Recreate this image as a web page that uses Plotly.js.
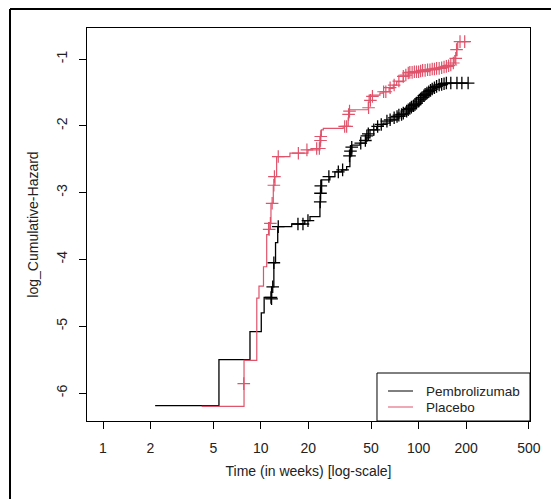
<!DOCTYPE html>
<html>
<head>
<meta charset="utf-8">
<script src="https://cdn.plot.ly/plotly-3.0.1.min.js"></script>
<style>
html,body{margin:0;padding:0;background:#fff;}
#chart{width:551px;height:499px;}
</style>
</head>
<body>
<div id="chart"></div>
<script>
// ---- data ----
const seriesNames = ["Pembrolizumab", "Placebo"];

const pembroTime = [2.14, 5.43, 8.54, 10.07, 10.5, 11.7, 12.1, 12.4, 12.8, 15.7, 19.0, 20.5,
  23.7, 23.9, 24.3, 27.4, 29.5, 32.6, 35.0, 36.7, 37.7, 42.5, 46.4, 49.2, 54.3, 59.5, 65.9,
  74.1, 82.0, 87, 92.2, 97, 102, 107, 112.5, 118, 123.4, 130, 136.6, 150.7, 205];
const pembroLogH = [-6.19, -5.50, -5.08, -4.80, -4.57, -4.41, -4.05, -3.75, -3.51, -3.47, -3.42, -3.36,
  -3.14, -3.00, -2.81, -2.76, -2.69, -2.66, -2.61, -2.45, -2.29, -2.26, -2.18, -2.06, -2.01, -1.96, -1.91,
  -1.86, -1.81, -1.76, -1.71, -1.66, -1.61, -1.56, -1.51, -1.47, -1.44, -1.41, -1.39, -1.36, -1.36];

const pembroCensTime = [11.6, 11.7, 11.9, 12.1, 12.9, 17.2, 18.5, 19.9, 23.8, 23.9, 24.0, 27, 31, 33,
  36.5, 37, 37.7, 43, 46, 47, 48, 52, 55, 58, 63, 66, 70, 73, 75, 78, 80, 84, 86, 88, 90, 93, 95, 97,
  100, 103, 105, 108, 110, 113, 116, 119, 122, 126, 130, 135, 140, 145, 150, 160, 175, 188, 206];
const pembroCensLogH = [-4.57, -4.59, -4.41, -4.05, -3.51, -3.47, -3.47, -3.42, -3.14, -3.01, -2.90, -2.76, -2.69, -2.66,
  -2.45, -2.38, -2.32, -2.26, -2.22, -2.15, -2.12, -2.06, -2.01, -1.98, -1.93, -1.91, -1.88, -1.86, -1.84, -1.83, -1.81, -1.78, -1.76, -1.74, -1.72, -1.70, -1.68, -1.66,
  -1.63, -1.60, -1.58, -1.55, -1.53, -1.51, -1.49, -1.47, -1.45, -1.43, -1.41, -1.39, -1.38, -1.37, -1.36, -1.36, -1.36, -1.36, -1.36];

const placeboTime = [4.22, 7.83, 9.43, 9.74, 10.4, 10.9, 11.2, 11.6, 12.0, 12.3, 12.6, 15.3, 19.9,
  23.7, 24.2, 24.9, 33.3, 35.8, 36.2, 48.0, 48.6, 56.9, 59.7, 65, 69.1, 72.6, 80.0, 86.1, 102, 118,
  136.6, 150.7, 166, 169.6, 175, 177, 211.8];
const placeboLogH = [-6.20, -5.51, -4.58, -4.40, -4.11, -3.63, -3.45, -3.16, -2.89, -2.76, -2.46, -2.41, -2.36,
  -2.16, -2.06, -2.04, -2.01, -1.88, -1.76, -1.65, -1.54, -1.51, -1.49, -1.44, -1.39, -1.34, -1.26, -1.21, -1.19, -1.16,
  -1.14, -1.11, -1.06, -0.95, -0.85, -0.74, -0.74];

const placeboCensTime = [7.8, 11.3, 11.5, 11.8, 12.1, 12.2, 12.9, 17.3, 19.6, 22.6, 23.5, 23.9, 24.0, 34.0, 35.0,
  36.0, 36.5, 48.2, 49.5, 51, 60, 62, 66, 70, 75, 80, 83, 86, 88, 91, 94, 97, 100, 103, 106, 110, 114, 118,
  122, 126, 130, 135, 140, 145, 150, 155, 160, 166, 172, 174, 183, 196];
const placeboCensLogH = [-5.86, -3.55, -3.46, -3.16, -2.89, -2.76, -2.46, -2.41, -2.36, -2.34, -2.34, -2.22, -2.16, -2.01, -2.01,
  -1.83, -1.78, -1.73, -1.62, -1.56, -1.49, -1.49, -1.43, -1.39, -1.33, -1.26, -1.24, -1.21, -1.20, -1.20, -1.19, -1.19, -1.19, -1.18, -1.17, -1.17, -1.16, -1.16,
  -1.15, -1.15, -1.14, -1.14, -1.13, -1.12, -1.11, -1.10, -1.09, -1.06, -0.99, -0.86, -0.74, -0.74];

const xTickVals = [1, 2, 5, 10, 20, 50, 100, 200, 500];
const xTickText = ["1", "2", "5", "10", "20", "50", "100", "200", "500"];
const yTickVals = [-1, -2, -3, -4, -5, -6];
const yTickText = ["-1", "-2", "-3", "-4", "-5", "-6"];

// ---- styles ----
const BLACK = "#000000";
const RED = "#DF536B";
const FONT = "Liberation Sans, Arial, sans-serif";
const TXT = "#222";
const FS = 14;

const traces = [
  {x: pembroTime, y: pembroLogH, type: "scatter", mode: "lines", line: {shape: "hv", color: BLACK, width: 1.3}, name: seriesNames[0], showlegend: false},
  {x: placeboTime, y: placeboLogH, type: "scatter", mode: "lines", line: {shape: "hv", color: RED, width: 1.2}, name: seriesNames[1], showlegend: false},
  {x: pembroCensTime, y: pembroCensLogH, type: "scatter", mode: "markers", marker: {symbol: "cross-thin-open", size: 9, color: BLACK, line: {color: BLACK, width: 1.3}}, showlegend: false},
  {x: placeboCensTime, y: placeboCensLogH, type: "scatter", mode: "markers", marker: {symbol: "cross-thin-open", size: 9, color: RED, line: {color: RED, width: 1.2}}, showlegend: false}
];

// legend geometry (paper coords)
const L = {x0: 0.6546, y1: 0.1221, lx0: 0.6795, lx1: 0.7359, yA: 0.0763, yB: 0.0356, tx: 0.763};

const layout = {
  width: 551, height: 499,
  margin: {l: 87, r: 21, t: 28, b: 78, pad: 0},
  paper_bgcolor: "#fff", plot_bgcolor: "#fff",
  font: {family: FONT, size: FS, color: TXT},
  showlegend: false,
  xaxis: {
    type: "log", range: [-0.1014, 2.706], autorange: false,
    tickvals: xTickVals, ticktext: xTickText,
    ticks: "outside", ticklen: 7, tickwidth: 1, tickcolor: "#000",
    showline: true, linecolor: "#000", linewidth: 1, mirror: true,
    showgrid: false, zeroline: false,
    ticklabelstandoff: 7,
    tickfont: {family: FONT, size: FS, color: TXT},
    title: {text: "Time (in weeks) [log-scale]", font: {family: FONT, size: FS, color: TXT}, standoff: 11}
  },
  yaxis: {
    range: [-6.419, -0.536], autorange: false,
    tickvals: yTickVals, ticktext: yTickText, tickangle: -90,
    ticks: "outside", ticklen: 7, tickwidth: 1, tickcolor: "#000",
    showline: true, linecolor: "#000", linewidth: 1, mirror: true,
    showgrid: false, zeroline: false,
    ticklabelstandoff: 6,
    tickfont: {family: FONT, size: FS, color: TXT},
    title: {text: "log_Cumulative-Hazard", font: {family: FONT, size: FS, color: TXT}, standoff: 12}
  },
  shapes: [
    // outer frame (top and left edges)
    {type: "line", xref: "paper", yref: "paper", x0: -0.1738, x1: 1.06, y0: 1.0483, y1: 1.0483, line: {color: "#000", width: 2}},
    {type: "line", xref: "paper", yref: "paper", x0: -0.1738, x1: -0.1738, y0: 1.0483, y1: -0.21, line: {color: "#000", width: 2}},
    // legend box
    {type: "rect", xref: "paper", yref: "paper", x0: L.x0, x1: 1, y0: 0, y1: L.y1, line: {color: "#000", width: 1}, fillcolor: "rgba(0,0,0,0)"},
    {type: "line", xref: "paper", yref: "paper", x0: L.lx0, x1: L.lx1, y0: L.yA, y1: L.yA, line: {color: BLACK, width: 1}},
    {type: "line", xref: "paper", yref: "paper", x0: L.lx0, x1: L.lx1, y0: L.yB, y1: L.yB, line: {color: RED, width: 1}}
  ],
  annotations: [
    {xref: "paper", yref: "paper", x: L.tx, y: L.yA, text: seriesNames[0], showarrow: false, xanchor: "left", yanchor: "middle", borderpad: 0, font: {family: FONT, size: 13.5, color: TXT}},
    {xref: "paper", yref: "paper", x: L.tx, y: L.yB, text: seriesNames[1], showarrow: false, xanchor: "left", yanchor: "middle", borderpad: 0, font: {family: FONT, size: 13.5, color: TXT}}
  ]
};

Plotly.newPlot("chart", traces, layout, {displayModeBar: false, staticPlot: true});
</script>
</body>
</html>
